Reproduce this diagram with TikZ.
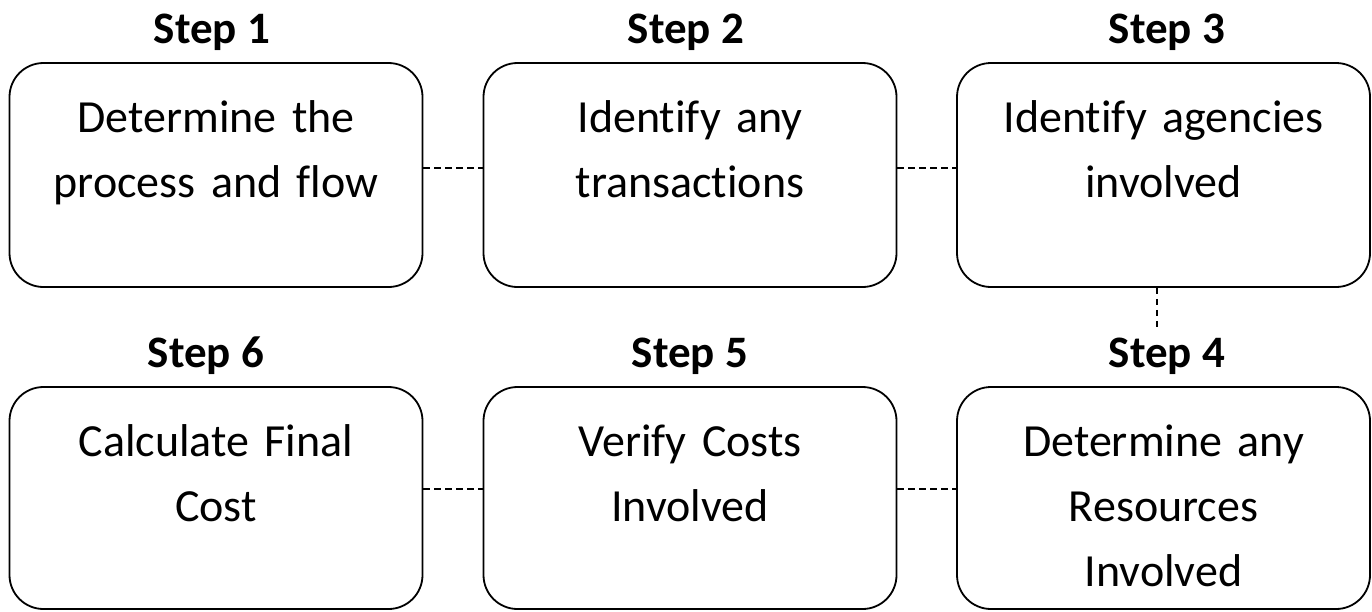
\documentclass[tikz,border=0pt]{standalone}
\usepackage{fontspec}
\setmainfont{Carlito}[Ligatures=NoCommon]
\begin{document}
\begin{tikzpicture}[x=1pt,y=-1pt,
  stepbox/.style={draw=black, line width=1.8pt, rounded corners=34pt,
    minimum width=413pt, inner sep=0pt},
  toprow/.style={stepbox, minimum height=224pt},
  botrow/.style={stepbox, minimum height=222pt},
  steptitle/.style={anchor=base, inner sep=0pt, font=\fontsize{45}{54}\selectfont\bfseries},
  boxtext/.style={anchor=base, inner sep=0pt, text width=400pt, align=center,
    font=\fontsize{46}{65}\selectfont},
  link/.style={draw=black, line width=1.7pt, dash pattern=on 6.5pt off 4.5pt}]
\useasboundingbox (0,0) rectangle (1372,611);

% boxes
\node[toprow] (b1) at (216,175) {};
\node[toprow] (b2) at (690,175) {};
\node[toprow] (b3) at (1163.5,175) {};
\node[botrow] (b6) at (216,498) {};
\node[botrow] (b5) at (690,498) {};
\node[botrow] (b4) at (1163.5,498) {};

% titles above the boxes
\node[steptitle] (s1) at (212,43) {Step 1};
\node[steptitle] (s2) at (686,43) {Step 2};
\node[steptitle] (s3) at (1167,43) {Step 3};
\node[steptitle] (s6) at (206,367) {Step 6};
\node[steptitle] (s5) at (690,367) {Step 5};
\node[steptitle] (s4) at (1167,367) {Step 4};

% box texts
\node[boxtext] (t1) at (216,132) {Determine the\\process and flow};
\node[boxtext] (t2) at (690,132) {Identify any\\transactions};
\node[boxtext] (t3) at (1163.5,132) {Identify agencies\\involved};
\node[boxtext] (t6) at (216,456) {Calculate Final\\Cost};
\node[boxtext] (t5) at (690,456) {Verify Costs\\Involved};
\node[boxtext] (t4) at (1163.5,456) {Determine any\\Resources\\Involved};

% dashed connectors
\draw[link] ([yshift=7pt]b1.east) -- ([yshift=7pt]b2.west);
\draw[link] ([yshift=7pt]b2.east) -- ([yshift=7pt]b3.west);
\coordinate (v) at (1157,331);
\draw[link] (b3.south -| v) -- (v);
\draw[link] ([yshift=9pt]b6.east) -- ([yshift=9pt]b5.west);
\draw[link] ([yshift=9pt]b5.east) -- ([yshift=9pt]b4.west);
\end{tikzpicture}
\end{document}
